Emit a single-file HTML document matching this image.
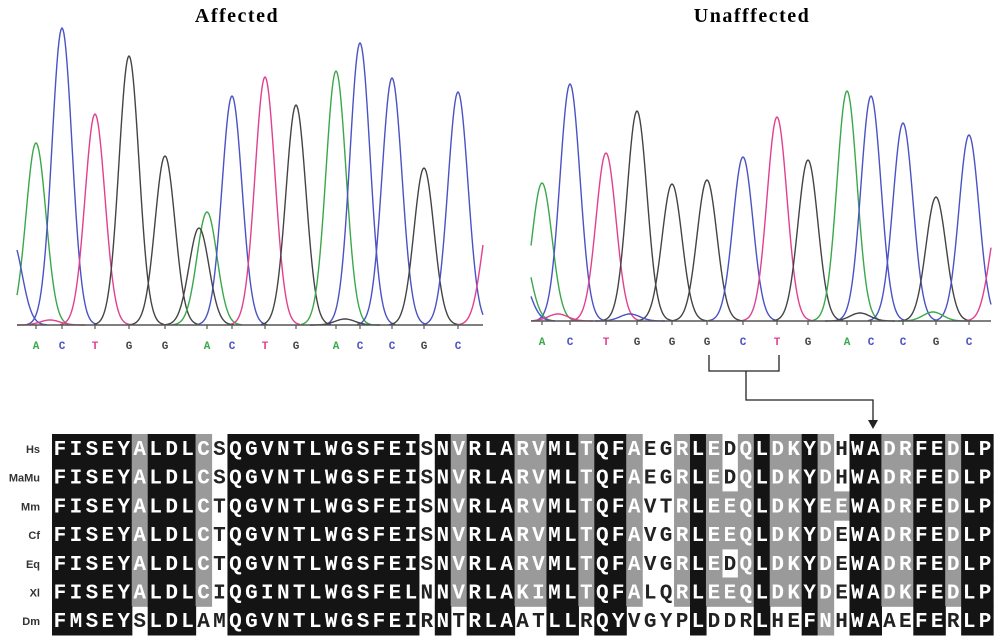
<!DOCTYPE html>
<html><head><meta charset="utf-8"><style>
html,body{margin:0;padding:0;background:#fff;}
svg{display:block;}
</style></head><body>
<svg id="fig" width="1000" height="642" viewBox="0 0 1000 642" xmlns="http://www.w3.org/2000/svg">
<text x="237" y="22" text-anchor="middle" font-family="Liberation Serif, serif" font-weight="bold" font-size="20" letter-spacing="1.5">Affected</text>
<text x="752" y="22" text-anchor="middle" font-family="Liberation Serif, serif" font-weight="bold" font-size="20" letter-spacing="1.5">Unafffected</text>
<g id="chromA"></g>
<g id="chromU"></g>
<path d="M709 355 V371 H779 V355 M746 371 V400 H873 V424" fill="none" stroke="#222" stroke-width="1.3"/>
<path d="M868 420 L873 429 L878 420 Z" fill="#222"/>
<g id="align"></g>
</svg>
<script>
const NS="http://www.w3.org/2000/svg";
const COLORS={A:"#3aa84a",C:"#4a52c4",T:"#e0408f",G:"#444"};
// Affected chromatogram data
const affBases=["A","C","T","G","G","A","C","T","G","A","C","C","G","C"];
const affPos=[36,62,95,129,165,207,232,265,296,336,360,392,424,458];
const affHeights=[182,297,211,269,169,113,229,248,220,254,282,247,157,233];
const affExtraBase=["C","G","T","G","T"];
const affExtraPos=[12,199,50,345,492];
const affExtraHeights=[85,97,5,6,120];
// Unaffected chromatogram data
const unBases=["A","C","T","G","G","G","C","T","G","A","C","C","G","C"];
const unPos=[542,570,606,637,672,707,743,777,808,847,871,903,936,969];
const unHeights=[138,237,168,210,137,141,164,204,161,230,225,198,124,186];
const unExtraBase=["A","C","T","C","G","A","T"];
const unExtraPos=[520,520,558,630,860,933,1000];
const unExtraHeights=[80,45,7,7,8,9,110];

function el(tag,attrs,parent){const e=document.createElementNS(NS,tag);for(const k in attrs)e.setAttribute(k,attrs[k]);parent.appendChild(e);return e;}

function drawChrom(g,x0,x1,base,bases,pos,hts,eb,ep,eh,labelY,prefix){
  const sig=10;
  const all=[];
  for(let i=0;i<bases.length;i++)all.push([bases[i],pos[i],hts[i]]);
  for(let i=0;i<eb.length;i++)all.push([eb[i],ep[i],eh[i]]);
  for(const [b,p,h] of all){
    const lo=Math.max(x0,p-3.5*sig),hi=Math.min(x1,p+3.5*sig);
    if(hi<=lo)continue;
    let d="";
    for(let x=lo;x<=hi;x+=1){const y=base-h*Math.exp(-((x-p)*(x-p))/(2*sig*sig));d+=(d?"L":"M")+x.toFixed(1)+" "+y.toFixed(1);}
    const path=el("path",{d:d,fill:"none",stroke:COLORS[b],"stroke-width":"1.4"},g);
    
    
  }
  const ax=el("line",{x1:x0,x2:x1,y1:base,y2:base,stroke:"#555","stroke-width":"1.6"},g);
  
  
  for(let i=0;i<bases.length;i++){
    const t=el("line",{x1:pos[i],x2:pos[i],y1:base,y2:base+4,stroke:"#555","stroke-width":"1.2"},g);
    
    
    const tx=el("text",{x:pos[i],y:labelY,"text-anchor":"middle","font-family":"Liberation Mono, monospace","font-weight":"bold","font-size":"11",fill:COLORS[bases[i]]},g);
    tx.textContent=bases[i];
    
    
  }
}
drawChrom(document.getElementById("chromA"),17,483,325,affBases,affPos,affHeights,affExtraBase,affExtraPos,affExtraHeights,349,"affected");
drawChrom(document.getElementById("chromU"),531,991,321,unBases,unPos,unHeights,unExtraBase,unExtraPos,unExtraHeights,345,"unaffected");

// Alignment data
const species=["Hs","MaMu","Mm","Cf","Eq","Xl","Dm"];
const seqs=[
"FISEYALDLCSQGVNTLWGSFEISNVRLARVMLTQFAEGRLEDQLDKYDHWADRFEDLP",
"FISEYALDLCSQGVNTLWGSFEISNVRLARVMLTQFAEGRLEDQLDKYDHWADRFEDLP",
"FISEYALDLCTQGVNTLWGSFEISNVRLARVMLTQFAVTRLEEQLDKYEEWADRFEDLP",
"FISEYALDLCTQGVNTLWGSFEISNVRLARVMLTQFAVGRLEEQLDKYDEWADRFEDLP",
"FISEYALDLCTQGVNTLWGSFEISNVRLARVMLTQFAVGRLEDQLDKYDEWADRFEDLP",
"FISEYALDLCIQGINTLWGSFELNNVRLAKIMLTQFALQRLEEQLDKYDEWADKFEDLP",
"FMSEYSLDLAMQGVNTLWGSFEIRNTRLAATLLRQYVGYPLDDRLHEFNHWAAEFERLP"];
const baseShade="bbbbbgbbbgwbbbbbbbbbbbbwbgbbbggbbgbbgwwgbgwgbggbgwbbggbbgbb";
const dmShade="bbbbbwbbbwwbbbbbbbbbbbbwbwbbbwwbbwbbwwwwbwwwbwwbgwbbwwbbwbb";
const shadeOverrides=[[2,42,"g"],[3,42,"g"],[5,42,"g"],[2,49,"g"]];
const shade=[];
for(let r=0;r<6;r++)shade.push(baseShade.split(""));
shade.push(dmShade.split(""));
for(const [r,c,s] of shadeOverrides)shade[r][c]=s;

const A=document.getElementById("align");
const cx0=52,cw=15.95,ry0=434,rh=28.7;
for(let r=0;r<seqs.length;r++){
  const y=ry0+r*rh;
  const lab=el("text",{x:40,y:y+19,"text-anchor":"end","font-family":"Liberation Sans, sans-serif","font-weight":"bold","font-size":"11",fill:"#333"},A);
  lab.textContent=species[r];
  
  
  for(let c=0;c<seqs[r].length;c++){
    const s=shade[r][c];
    const x=cx0+c*cw;
    if(s!=="w"){
      const rc=el("rect",{x:x.toFixed(2),y:y.toFixed(2),width:(cw+0.6).toFixed(2),height:(rh+0.6).toFixed(2),fill:s==="b"?"#141414":"#9a9a9a"},A);
      
      
    }
    const t=el("text",{x:(x+cw/2).toFixed(2),y:(y+21).toFixed(2),"text-anchor":"middle","font-family":"Liberation Mono, monospace","font-weight":"bold","font-size":"21",fill:s==="w"?"#222":"#fff"},A);
    t.textContent=seqs[r][c];
    
    
  }
}
</script>
</body></html>
